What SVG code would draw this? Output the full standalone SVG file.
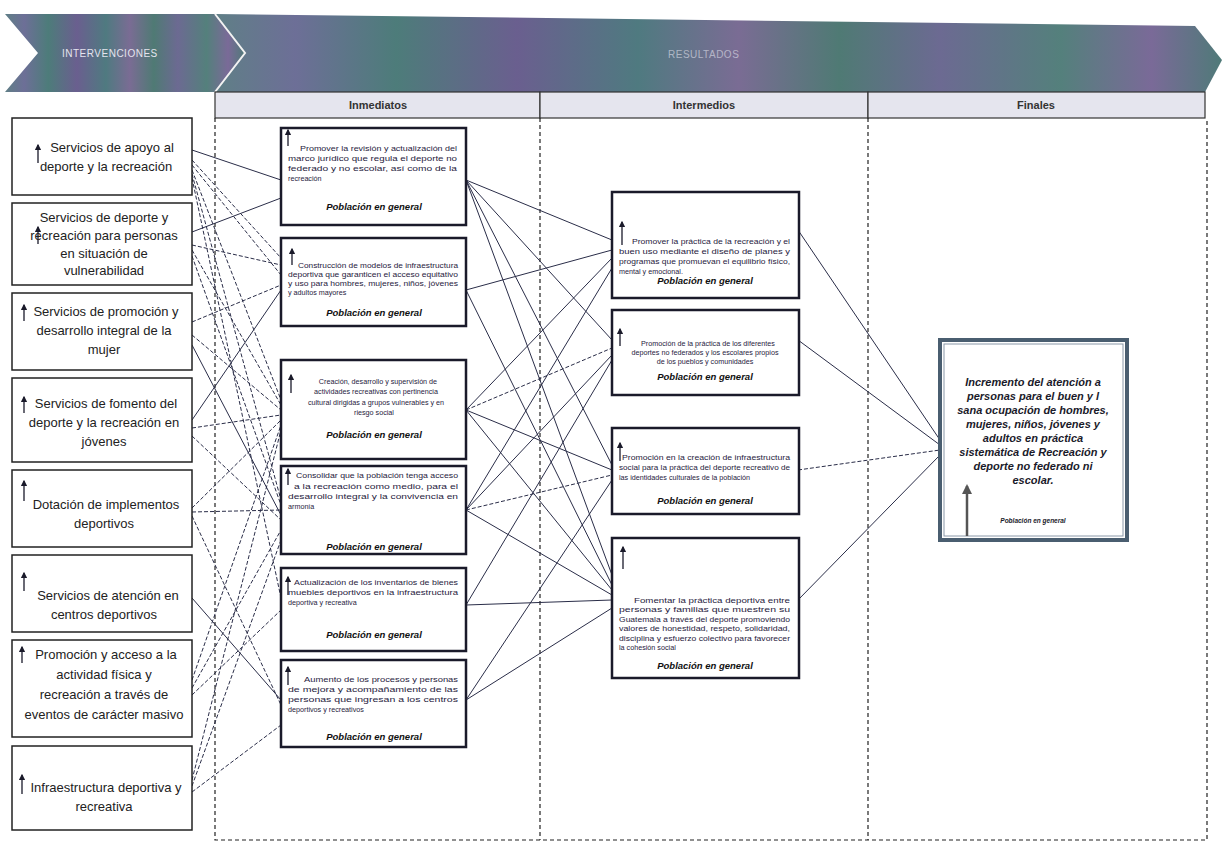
<svg xmlns="http://www.w3.org/2000/svg" width="1225" height="850" viewBox="0 0 1225 850">
<defs>
<linearGradient id="ban" x1="0" y1="0" x2="1" y2="0">
<stop offset="0" stop-color="#5f7f86"/>
<stop offset="0.08" stop-color="#6d6f97"/>
<stop offset="0.18" stop-color="#4d7c7a"/>
<stop offset="0.3" stop-color="#6a5f8f"/>
<stop offset="0.42" stop-color="#4f7a80"/>
<stop offset="0.52" stop-color="#7a6c94"/>
<stop offset="0.62" stop-color="#4f7a74"/>
<stop offset="0.72" stop-color="#6c6a92"/>
<stop offset="0.84" stop-color="#54807c"/>
<stop offset="0.93" stop-color="#7a6a98"/>
<stop offset="1" stop-color="#4f7a78"/>
</linearGradient>
<marker id="ah" viewBox="0 0 10 10" refX="8" refY="5" markerWidth="5" markerHeight="5" orient="auto">
<path d="M0,0 L10,5 L0,10 Z" fill="#1a1a2a"/>
</marker>
<marker id="ahg" viewBox="0 0 10 10" refX="8" refY="5" markerWidth="4" markerHeight="4" orient="auto">
<path d="M0,0 L10,5 L0,10 Z" fill="#555"/>
</marker>
<style>
.ban{font-family:"Liberation Sans",Arial,sans-serif;font-size:10px;fill:#e4e4ee;letter-spacing:0.5px}
.hd{fill:#e5e5ee;stroke:#333;stroke-width:1.2}
.hdt{font-family:"Liberation Sans",Arial,sans-serif;font-size:11px;font-weight:bold;fill:#333;text-anchor:middle}
.col{fill:none;stroke:#222;stroke-width:1.2;stroke-dasharray:4 3}
.lb{fill:#fff;stroke:#222;stroke-width:1.5}
.lt{font-family:"Liberation Sans",Arial,sans-serif;font-size:13px;fill:#222;text-anchor:middle}
.bx{fill:#fff;stroke:#1a1a2a;stroke-width:2.5}
.st{font-family:"Liberation Sans",Arial,sans-serif;font-size:7.2px;fill:#1f2240}
.stc{font-family:"Liberation Sans",Arial,sans-serif;font-size:7.2px;fill:#1f2240;text-anchor:middle}
.pg{font-family:"Liberation Sans",Arial,sans-serif;font-size:9.5px;font-weight:bold;font-style:italic;fill:#111;text-anchor:middle}
.ar{stroke:#1a1a2a;stroke-width:1.3;fill:none;marker-end:url(#ah)}
.cs{stroke:#2a2d48;stroke-width:1;fill:none}
.cd{stroke:#2a2d48;stroke-width:1;fill:none;stroke-dasharray:4 2}
.ft{font-family:"Liberation Sans",Arial,sans-serif;font-size:11px;font-weight:bold;font-style:italic;fill:#1a1a2a;text-anchor:middle}
</style>
</defs>
<rect width="1225" height="850" fill="#ffffff"/>

<g id="banner">
<polygon points="215,14 1195,26 1222,60 1205,92 215,92" fill="url(#ban)"/>
<polygon points="5,14 215,14 245,53 215,92 5,92 38,53" fill="url(#ban)"/>
<polyline points="215,14 245,53 215,92" fill="none" stroke="#f2f2f2" stroke-width="2"/>
<text class="ban" x="62" y="57">INTERVENCIONES</text>
<text class="ban" x="668" y="58" fill-opacity="0.6">RESULTADOS</text>
</g>

<g id="headers">
<rect class="hd" x="215" y="92" width="325" height="26"/>
<rect class="hd" x="540" y="92" width="328" height="26"/>
<rect class="hd" x="868" y="92" width="337" height="26"/>
<text class="hdt" x="378" y="109">Inmediatos</text>
<text class="hdt" x="704" y="109">Intermedios</text>
<text class="hdt" x="1036" y="109">Finales</text>
<path class="col" d="M215,118 V840 H1207 V118 M540,118 V840 M868,118 V840"/>
</g>

<g id="connectors">
<line class="cs" x1="192" y1="150" x2="281" y2="180"/>
<line class="cs" x1="192" y1="232" x2="281" y2="198"/>
<line class="cd" x1="192" y1="160" x2="281" y2="258"/>
<line class="cd" x1="192" y1="165" x2="281" y2="275"/>
<line class="cd" x1="192" y1="170" x2="281" y2="400"/>
<line class="cd" x1="192" y1="174" x2="281" y2="500"/>
<line class="cd" x1="192" y1="178" x2="281" y2="598"/>
<line class="cd" x1="192" y1="245" x2="281" y2="265"/>
<line class="cd" x1="192" y1="250" x2="281" y2="405"/>
<line class="cd" x1="192" y1="256" x2="281" y2="505"/>
<line class="cd" x1="192" y1="322" x2="281" y2="285"/>
<line class="cd" x1="192" y1="335" x2="281" y2="410"/>
<line class="cs" x1="192" y1="345" x2="281" y2="515"/>
<line class="cs" x1="192" y1="420" x2="281" y2="290"/>
<line class="cd" x1="192" y1="428" x2="281" y2="415"/>
<line class="cd" x1="192" y1="436" x2="281" y2="520"/>
<line class="cd" x1="192" y1="508" x2="281" y2="420"/>
<line class="cd" x1="192" y1="512" x2="281" y2="510"/>
<line class="cd" x1="192" y1="516" x2="281" y2="705"/>
<line class="cs" x1="192" y1="598" x2="281" y2="700"/>
<line class="cd" x1="192" y1="680" x2="281" y2="425"/>
<line class="cd" x1="192" y1="688" x2="281" y2="530"/>
<line class="cd" x1="192" y1="695" x2="281" y2="610"/>
<line class="cd" x1="192" y1="780" x2="281" y2="430"/>
<line class="cd" x1="192" y1="786" x2="281" y2="540"/>
<line class="cd" x1="192" y1="792" x2="281" y2="725"/>
<line class="cs" x1="466" y1="180" x2="612" y2="240"/>
<line class="cs" x1="466" y1="180" x2="612" y2="340"/>
<line class="cs" x1="466" y1="180" x2="612" y2="465"/>
<line class="cs" x1="466" y1="180" x2="612" y2="575"/>
<line class="cs" x1="466" y1="290" x2="612" y2="250"/>
<line class="cs" x1="466" y1="290" x2="612" y2="585"/>
<line class="cs" x1="466" y1="410" x2="612" y2="258"/>
<line class="cd" x1="466" y1="410" x2="612" y2="348"/>
<line class="cs" x1="466" y1="410" x2="612" y2="470"/>
<line class="cs" x1="466" y1="410" x2="612" y2="590"/>
<line class="cs" x1="466" y1="510" x2="612" y2="268"/>
<line class="cs" x1="466" y1="510" x2="612" y2="355"/>
<line class="cd" x1="466" y1="510" x2="612" y2="475"/>
<line class="cs" x1="466" y1="510" x2="612" y2="595"/>
<line class="cs" x1="466" y1="605" x2="612" y2="360"/>
<line class="cs" x1="466" y1="605" x2="612" y2="600"/>
<line class="cs" x1="466" y1="700" x2="612" y2="480"/>
<line class="cs" x1="466" y1="700" x2="612" y2="608"/>
<line class="cs" x1="798" y1="230" x2="940" y2="440"/>
<line class="cs" x1="798" y1="340" x2="940" y2="445"/>
<line class="cd" x1="798" y1="470" x2="940" y2="450"/>
<line class="cs" x1="798" y1="600" x2="940" y2="455"/>
</g>

<g id="L1"><rect class="lb" x="12" y="118" width="180" height="77"/><path class="ar" d="M38,163 V145"/>
<text class="lt" x="112" y="152">Servicios de apoyo al</text><text class="lt" x="106" y="171">deporte y la recreación</text></g>
<g id="L2"><rect class="lb" x="12" y="203" width="180" height="82"/><path class="ar" d="M38,244 V227"/>
<text class="lt" x="104" y="222">Servicios de deporte y</text><text class="lt" x="104" y="240">recreación para personas</text><text class="lt" x="104" y="258">en situación de</text><text class="lt" x="104" y="275">vulnerabilidad</text></g>
<g id="L3"><rect class="lb" x="12" y="293" width="180" height="77"/><path class="ar" d="M24,321 V305"/>
<text class="lt" x="106" y="316">Servicios de promoción y</text><text class="lt" x="104" y="335">desarrollo integral de la</text><text class="lt" x="104" y="354">mujer</text></g>
<g id="L4"><rect class="lb" x="12" y="378" width="180" height="84"/><path class="ar" d="M24,413 V397"/>
<text class="lt" x="106" y="408">Servicios de fomento del</text><text class="lt" x="104" y="427">deporte y la recreación en</text><text class="lt" x="104" y="446">jóvenes</text></g>
<g id="L5"><rect class="lb" x="12" y="470" width="180" height="77"/><path class="ar" d="M24,501 V481"/>
<text class="lt" x="106" y="509">Dotación de implementos</text><text class="lt" x="104" y="528">deportivos</text></g>
<g id="L6"><rect class="lb" x="12" y="555" width="180" height="77"/><path class="ar" d="M24,591 V573"/>
<text class="lt" x="108" y="600">Servicios de atención en</text><text class="lt" x="104" y="619">centros deportivos</text></g>
<g id="L7"><rect class="lb" x="12" y="640" width="180" height="97"/><path class="ar" d="M22,663 V647"/>
<text class="lt" x="106" y="659">Promoción y acceso a la</text><text class="lt" x="104" y="679">actividad física y</text><text class="lt" x="104" y="699">recreación a través de</text><text class="lt" x="104" y="719">eventos de carácter masivo</text></g>
<g id="L8"><rect class="lb" x="12" y="746" width="180" height="84"/><path class="ar" d="M22,794 V775"/>
<text class="lt" x="106" y="792">Infraestructura deportiva y</text><text class="lt" x="104" y="811">recreativa</text></g>

<g id="I1"><rect class="bx" x="281" y="128" width="185" height="97"/><path class="ar" d="M288,146 V130"/>
<text class="st" x="300" y="151" textLength="157" lengthAdjust="spacingAndGlyphs">Promover la revisión y actualización del</text>
<text class="st" x="288" y="161" textLength="169" lengthAdjust="spacingAndGlyphs">marco jurídico que regula el deporte no</text>
<text class="st" x="288" y="171" textLength="169" lengthAdjust="spacingAndGlyphs">federado y no escolar, así como de la</text>
<text class="st" x="288" y="181">recreación</text>
<text class="pg" x="374" y="210">Población en general</text></g>
<g id="I2"><rect class="bx" x="281" y="238" width="185" height="88"/><path class="ar" d="M292,265 V249"/>
<text class="st" x="298" y="268" textLength="160" lengthAdjust="spacingAndGlyphs">Construcción de modelos de infraestructura</text>
<text class="st" x="288" y="277" textLength="170" lengthAdjust="spacingAndGlyphs">deportiva que garanticen el acceso equitativo</text>
<text class="st" x="288" y="286" textLength="170" lengthAdjust="spacingAndGlyphs">y uso para hombres, mujeres, niños, jóvenes</text>
<text class="st" x="288" y="295">y adultos mayores</text>
<text class="pg" x="374" y="316">Población en general</text></g>
<g id="I3"><rect class="bx" x="281" y="360" width="185" height="99"/><path class="ar" d="M291,393 V375"/>
<text class="stc" x="378" y="384">Creación, desarrollo y supervisión de</text>
<text class="stc" x="376" y="394">actividades recreativas con pertinencia</text>
<text class="stc" x="376" y="405">cultural dirigidas a grupos vulnerables y en</text>
<text class="stc" x="374" y="415">riesgo social</text>
<text class="pg" x="374" y="438">Población en general</text></g>
<g id="I4"><rect class="bx" x="281" y="466" width="185" height="88"/><path class="ar" d="M288,485 V469"/>
<text class="st" x="296" y="478" textLength="162" lengthAdjust="spacingAndGlyphs">Consolidar que la población tenga acceso</text>
<text class="st" x="294" y="489" textLength="164" lengthAdjust="spacingAndGlyphs">a la recreación como medio, para el</text>
<text class="st" x="288" y="499" textLength="170" lengthAdjust="spacingAndGlyphs">desarrollo integral y la convivencia en</text>
<text class="st" x="288" y="509">armonía</text>
<text class="pg" x="374" y="550">Población en general</text></g>
<g id="I5"><rect class="bx" x="281" y="568" width="185" height="83"/><path class="ar" d="M288,595 V577"/>
<text class="st" x="294" y="585" textLength="164" lengthAdjust="spacingAndGlyphs">Actualización de los inventarios de bienes</text>
<text class="st" x="288" y="595" textLength="170" lengthAdjust="spacingAndGlyphs">muebles deportivos en la infraestructura</text>
<text class="st" x="288" y="605">deportiva y recreativa</text>
<text class="pg" x="374" y="638">Población en general</text></g>
<g id="I6"><rect class="bx" x="281" y="660" width="185" height="87"/><path class="ar" d="M288,685 V667"/>
<text class="st" x="304" y="682" textLength="154" lengthAdjust="spacingAndGlyphs">Aumento de los procesos y personas</text>
<text class="st" x="288" y="692" textLength="170" lengthAdjust="spacingAndGlyphs">de mejora y acompañamiento de las</text>
<text class="st" x="288" y="702" textLength="170" lengthAdjust="spacingAndGlyphs">personas que ingresan a los centros</text>
<text class="st" x="288" y="712">deportivos y recreativos</text>
<text class="pg" x="374" y="740">Población en general</text></g>

<g id="N1"><rect class="bx" x="612" y="192" width="187" height="106"/><path class="ar" d="M622,245 V222"/>
<text class="st" x="632" y="244" textLength="158" lengthAdjust="spacingAndGlyphs">Promover la práctica de la recreación y el</text>
<text class="st" x="619" y="254" textLength="171" lengthAdjust="spacingAndGlyphs">buen uso mediante el diseño de planes y</text>
<text class="st" x="619" y="264" textLength="171" lengthAdjust="spacingAndGlyphs">programas que promuevan el equilibrio físico,</text>
<text class="st" x="619" y="274">mental y emocional.</text>
<text class="pg" x="705" y="284">Población en general</text></g>
<g id="N2"><rect class="bx" x="612" y="310" width="187" height="85"/><path class="ar" d="M620,346 V329"/>
<text class="stc" x="708" y="346">Promoción de la práctica de los diferentes</text>
<text class="stc" x="705" y="355">deportes no federados y los escolares propios</text>
<text class="stc" x="705" y="364">de los pueblos y comunidades</text>
<text class="pg" x="705" y="380">Población en general</text></g>
<g id="N3"><rect class="bx" x="612" y="428" width="187" height="86"/><path class="ar" d="M620,461 V443"/>
<text class="st" x="622" y="460" textLength="168" lengthAdjust="spacingAndGlyphs">Promoción en la creación de infraestructura</text>
<text class="st" x="619" y="470" textLength="171" lengthAdjust="spacingAndGlyphs">social para la práctica del deporte recreativo de</text>
<text class="st" x="619" y="480">las identidades culturales de la población</text>
<text class="pg" x="705" y="504">Población en general</text></g>
<g id="N4"><rect class="bx" x="612" y="538" width="187" height="140"/><path class="ar" d="M623,569 V547"/>
<text class="st" x="634" y="603" textLength="156" lengthAdjust="spacingAndGlyphs">Fomentar la práctica deportiva entre</text>
<text class="st" x="619" y="612" textLength="171" lengthAdjust="spacingAndGlyphs">personas y familias que muestren su</text>
<text class="st" x="619" y="622" textLength="171" lengthAdjust="spacingAndGlyphs">Guatemala a través del deporte promoviendo</text>
<text class="st" x="619" y="631" textLength="171" lengthAdjust="spacingAndGlyphs">valores de honestidad, respeto, solidaridad,</text>
<text class="st" x="619" y="641" textLength="171" lengthAdjust="spacingAndGlyphs">disciplina y esfuerzo colectivo para favorecer</text>
<text class="st" x="619" y="650">la cohesión social</text>
<text class="pg" x="705" y="669">Población en general</text></g>

<g id="F1"><rect x="940" y="340" width="187" height="200" fill="#fff" stroke="#4a5e70" stroke-width="4"/>
<rect x="944" y="344" width="179" height="192" fill="none" stroke="#8a98a8" stroke-width="1"/>
<text class="ft" x="1033" y="386">Incremento del atención a</text>
<text class="ft" x="1033" y="400">personas para el buen y l</text>
<text class="ft" x="1033" y="414">sana ocupación de hombres,</text>
<text class="ft" x="1033" y="428">mujeres, niños,  jóvenes y</text>
<text class="ft" x="1033" y="442">adultos en práctica</text>
<text class="ft" x="1033" y="456">sistemática de Recreación y</text>
<text class="ft" x="1033" y="470">deporte no federado ni</text>
<text class="ft" x="1033" y="484">escolar.</text>
<text class="ft" x="1033" y="523" style="font-size:6.5px">Población en general</text>
<path d="M967,536 V486" stroke="#555" stroke-width="2.5" fill="none" marker-end="url(#ahg)"/></g>
</svg>
